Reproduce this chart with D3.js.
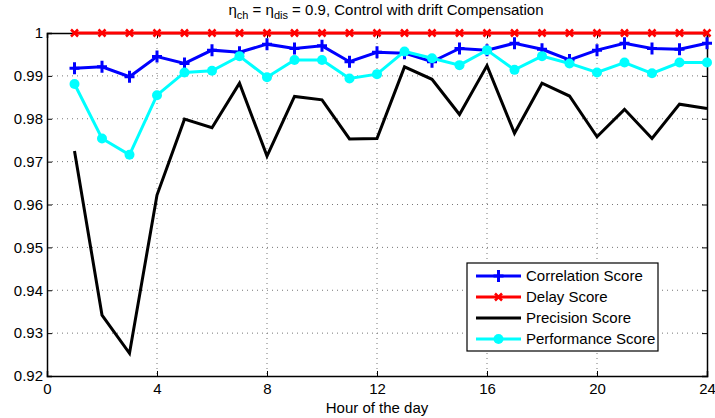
<!DOCTYPE html>
<html>
<head>
    <script type="text/javascript" src="https://cdn.jsdelivr.net/npm/d3@7"></script>
    <style>
        body { margin: 0; background: #fff; }
        text { font-family: "Liberation Sans", Arial, sans-serif; }
    </style>
</head>
<body>
    <div id="chart"></div>

    <script type="text/javascript">
    var hours = d3.range(1, 25);
    var correlation = [0.9918, 0.9921, 0.9898, 0.9945, 0.9929, 0.9960, 0.9955, 0.9974, 0.9964, 0.9970, 0.9933, 0.9955,
                       0.9953, 0.9933, 0.9964, 0.9960, 0.9976, 0.9962, 0.9937, 0.9960, 0.9976, 0.9964, 0.9962, 0.9976];
    var delay = [1, 1, 1, 1, 1, 1, 1, 1, 1, 1, 1, 1, 1, 1, 1, 1, 1, 1, 1, 1, 1, 1, 1, 1];
    var precision = [0.9725, 0.9342, 0.9253, 0.9622, 0.9799, 0.9779, 0.9883, 0.9713, 0.9852, 0.9844, 0.9753, 0.9754,
                     0.9921, 0.9892, 0.9810, 0.9924, 0.9766, 0.9883, 0.9853, 0.9758, 0.9822, 0.9754, 0.9834, 0.9824];
    var performance = [0.9881, 0.9754, 0.9716, 0.9855, 0.9908, 0.9912, 0.9946, 0.9897, 0.9937, 0.9937, 0.9894, 0.9904,
                       0.9957, 0.9941, 0.9925, 0.9960, 0.9914, 0.9946, 0.9929, 0.9908, 0.9931, 0.9906, 0.9931, 0.9931];
    var xTicks = [0, 4, 8, 12, 16, 20, 24];
    var yTicks = [0.92, 0.93, 0.94, 0.95, 0.96, 0.97, 0.98, 0.99, 1];

    var series = [
        {name: "Correlation Score", values: correlation, color: "#0000ff", marker: "plus"},
        {name: "Delay Score", values: delay, color: "#ff0000", marker: "x"},
        {name: "Precision Score", values: precision, color: "#000000", marker: "none"},
        {name: "Performance Score", values: performance, color: "#00ffff", marker: "circle"}
    ];

    var width = 715, height = 418;
    var plotLeft = 47, plotRight = 707, plotTop = 33, plotBottom = 376;
    var fontSize = "15px";

    var svg = d3.select("#chart").append("svg")
        .attr("width", width)
        .attr("height", height);

    var x = d3.scaleLinear().domain([0, 24]).range([plotLeft, plotRight]);
    var y = d3.scaleLinear().domain([0.92, 1]).range([plotBottom, plotTop]);

    // grid
    svg.append("g").selectAll("line").data(yTicks.slice(1, -1)).enter().append("line")
        .attr("x1", plotLeft).attr("x2", plotRight)
        .attr("y1", function(d) { return y(d); }).attr("y2", function(d) { return y(d); })
        .style("stroke", "#777").style("stroke-width", 1).style("stroke-dasharray", "1,4");
    svg.append("g").selectAll("line").data(xTicks.slice(1, -1)).enter().append("line")
        .attr("y1", plotTop).attr("y2", plotBottom)
        .attr("x1", function(d) { return x(d); }).attr("x2", function(d) { return x(d); })
        .style("stroke", "#777").style("stroke-width", 1).style("stroke-dasharray", "1,4");

    // axes (ticks inside, like matlab)
    var xAxis = svg.append("g").attr("transform", "translate(0," + plotBottom + ")")
        .call(d3.axisBottom(x).tickValues(xTicks).tickSize(-5).tickPadding(7).tickFormat(d3.format("d")));
    var yAxis = svg.append("g").attr("transform", "translate(" + plotLeft + ",0)")
        .call(d3.axisLeft(y).tickValues(yTicks).tickSize(-5).tickPadding(4).tickFormat(function(d) { return d === 1 ? "1" : d3.format(".2f")(d); }));
    svg.append("g").attr("transform", "translate(0," + plotTop + ")")
        .call(d3.axisTop(x).tickValues(xTicks).tickSize(-5).tickFormat(""));
    svg.append("g").attr("transform", "translate(" + plotRight + ",0)")
        .call(d3.axisRight(y).tickValues(yTicks).tickSize(-5).tickFormat(""));
    svg.selectAll(".domain").style("stroke", "#000").style("stroke-width", 1.5);
    svg.selectAll(".tick line").style("stroke", "#000");
    [xAxis, yAxis].forEach(function(a) {
        a.selectAll("text").style("font-size", fontSize).style("fill", "#000")
            .style("font-family", "'Liberation Sans', Arial, sans-serif");
    });

    var line = d3.line()
        .x(function(d, i) { return x(hours[i]); })
        .y(function(d) { return y(d); });

    function drawMarker(g, type, color, cx, cy) {
        if (type === "plus") {
            g.append("path").attr("d", "M" + (cx - 5) + "," + cy + "H" + (cx + 5) + "M" + cx + "," + (cy - 6) + "V" + (cy + 6))
                .style("stroke", color).style("stroke-width", 3).style("fill", "none");
        } else if (type === "x") {
            g.append("path").attr("d", "M" + (cx - 3.5) + "," + (cy - 3.5) + "L" + (cx + 3.5) + "," + (cy + 3.5) +
                    "M" + (cx - 3.5) + "," + (cy + 3.5) + "L" + (cx + 3.5) + "," + (cy - 3.5))
                .style("stroke", color).style("stroke-width", 2.5).style("fill", "none");
        } else if (type === "circle") {
            g.append("circle").attr("cx", cx).attr("cy", cy).attr("r", 5).style("fill", color);
        }
    }

    var order = [2, 0, 3, 1];
    order.forEach(function(k) {
        var s = series[k];
        var g = svg.append("g");
        g.append("path").datum(s.values)
            .attr("d", line)
            .style("fill", "none")
            .style("stroke", s.color)
            .style("stroke-width", 3)
            .style("stroke-linejoin", "miter");
        s.values.forEach(function(v, i) { drawMarker(g, s.marker, s.color, x(hours[i]), y(v)); });
    });

    // title
    var title = svg.append("text").attr("x", 386).attr("y", 15).attr("text-anchor", "middle")
        .style("font-size", fontSize);
    title.append("tspan").text("\u03b7");
    title.append("tspan").attr("dy", 4).style("font-size", "11px").text("ch");
    title.append("tspan").attr("dy", -4).text(" = \u03b7");
    title.append("tspan").attr("dy", 4).style("font-size", "11px").text("dis");
    title.append("tspan").attr("dy", -4).text("  = 0.9, Control with drift Compensation");

    svg.append("text").attr("x", 377).attr("y", 413).attr("text-anchor", "middle")
        .style("font-size", fontSize).text("Hour of the day");

    // legend
    var lg = svg.append("g").attr("transform", "translate(467,263)");
    lg.append("rect").attr("width", 191).attr("height", 88)
        .style("fill", "#fff").style("stroke", "#000").style("stroke-width", 1.2);
    series.forEach(function(s, i) {
        var yy = 13 + i * 21;
        lg.append("line").attr("x1", 9).attr("x2", 54).attr("y1", yy).attr("y2", yy)
            .style("stroke", s.color).style("stroke-width", 3);
        drawMarker(lg, s.marker, s.color, 31.5, yy);
        lg.append("text").attr("x", 59).attr("y", yy + 5).style("font-size", fontSize).text(s.name);
    });
    </script>
</body>
</html>
